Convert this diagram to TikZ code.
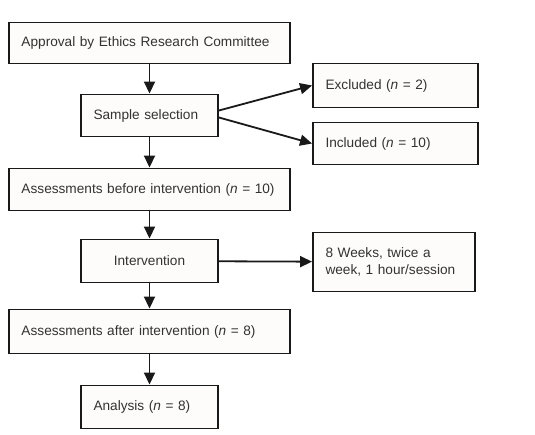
\documentclass[tikz,border=0pt]{standalone}
\usepackage{fontspec}
\setmainfont{Liberation Sans}
\usetikzlibrary{arrows.meta}
\definecolor{boxfill}{HTML}{FDFCFA}
\begin{document}
\begin{tikzpicture}[x=1bp,y=-1bp,
    box/.style={draw=black!90,line width=1.9bp,fill=boxfill,text=black!80,inner xsep=12.5bp,inner ysep=0bp,align=left,
        font=\fontsize{13.7}{17.3}\selectfont},
    arr/.style={-{Triangle[length=12bp,width=11bp]},line width=1.8bp,draw=black!90}]
    \useasboundingbox (0,0) rectangle (535,435);
    \node[box,text width=256bp,minimum height=41bp] (appr) at (149.5,43) {Approval by Ethics Research Committee};
    \node[box,text width=112bp,minimum height=42bp] (sel) at (149.5,115.5) {Sample selection};
    \node[box,text width=140bp,minimum height=44bp] (excl) at (395.5,85.5) {Excluded (\textit{n} = 2)};
    \node[box,text width=140bp,minimum height=42bp] (incl) at (395.5,143.5) {Included (\textit{n} = 10)};
    \node[box,text width=256bp,minimum height=42bp] (before) at (149.5,189.5) {Assessments before intervention (\textit{n} = 10)};
    \node[box,text width=112bp,minimum height=43bp,align=center] (interv) at (149.5,261) {Intervention};
    \node[box,text width=137bp,minimum height=59bp] (sched) at (394,262) {8 Weeks, twice a\\week, 1 hour/session};
    \node[box,text width=256bp,minimum height=44bp] (after) at (149.5,331.5) {Assessments after intervention (\textit{n} = 8)};
    \node[box,text width=112bp,minimum height=43bp] (anal) at (149.5,407) {Analysis (\textit{n} = 8)};
    \draw[arr] (appr) -- (sel);
    \draw[arr] ([yshift=5bp]sel.east) -- (excl.west);
    \draw[arr] ([yshift=-2bp]sel.east) -- (incl.west);
    \draw[arr] (sel) -- (before);
    \draw[arr] (before) -- (interv);
    \draw[arr] (interv) -- (sched);
    \draw[arr] (interv) -- (after);
    \draw[arr] (after) -- (anal);
\end{tikzpicture}
\end{document}
